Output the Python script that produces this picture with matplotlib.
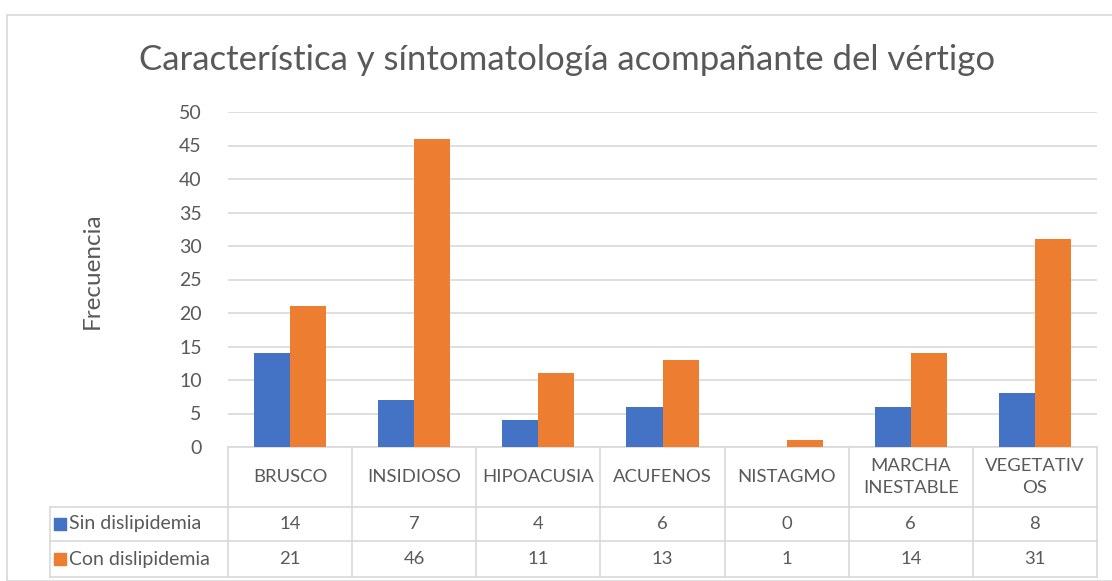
import matplotlib
matplotlib.use('Agg')
import matplotlib.pyplot as plt
import numpy as np

categorias = ['BRUSCO', 'INSIDIOSO', 'HIPOACUSIA', 'ACUFENOS', 'NISTAGMO',
              'MARCHA\nINESTABLE', 'VEGETATIV\nOS']
sin_dis = [14, 7, 4, 6, 0, 6, 8]
con_dis = [21, 46, 11, 13, 1, 14, 31]
series = ['Sin dislipidemia', 'Con dislipidemia']
colores = ['#4472C4', '#ED7D31']

plt.rcParams['font.family'] = ['Lato', 'DejaVu Sans']
gris = '#595959'
linea = '#d9d9d9'

W, H = 1112, 581
fig = plt.figure(figsize=(W/100, H/100), dpi=100)

# borde del grafico
fig.add_artist(plt.Rectangle((7/W, 0), 1.2, 1 - 15/H, transform=fig.transFigure,
                             fill=False, edgecolor=linea, lw=1.2))

left, right, top, bottom = 228, 1097, 112, 447
ax = fig.add_axes([left/W, 1 - bottom/H, (right-left)/W, (bottom-top)/H])

x = np.arange(len(categorias))
w = 0.29
ax.bar(x - w/2, sin_dis, w, color=colores[0], zorder=3)
ax.bar(x + w/2, con_dis, w, color=colores[1], zorder=3)

ax.set_xlim(-0.5, len(categorias) - 0.5)
ax.set_ylim(0, 50)
ax.set_yticks(range(0, 51, 5))
ax.yaxis.grid(True, color=linea, lw=1.2, zorder=0)
ax.tick_params(axis='y', length=0, pad=19, labelsize=14, labelcolor=gris)
ax.set_xticks([])
for s in ['top', 'right', 'left']:
    ax.spines[s].set_visible(False)
ax.spines['bottom'].set_color(linea)
ax.spines['bottom'].set_linewidth(1.2)

fig.text(92/W, 1 - 271/H, 'Frecuencia', rotation=90, ha='center', va='center',
         fontsize=17.5, color=gris)
fig.text(567/W, 1 - 60/H, 'Característica y síntomatología acompañante del vértigo',
         ha='center', va='center', fontsize=25, color=gris)

# tabla de datos
ph = bottom - top
def ay(py):
    return (bottom - py) / ph
y_h, y_r1, y_r2 = ay(507), ay(541), ay(577)
lab_left = (50 - left) / (right - left) * 7 - 0.5

tr = ax.get_xaxis_transform()
for xv in np.arange(-0.5, len(categorias), 1.0):
    ax.plot([xv, xv], [0, y_r2], transform=tr, clip_on=False, color=linea, lw=1.2)
ax.plot([lab_left, lab_left], [y_h, y_r2], transform=tr, clip_on=False, color=linea, lw=1.2)
for yv in [y_h, y_r1, y_r2]:
    ax.plot([lab_left, len(categorias) - 0.5], [yv, yv], transform=tr,
            clip_on=False, color=linea, lw=1.2)

fs = 13.3
for i, c in enumerate(categorias):
    ax.text(i, y_h / 2, c, transform=tr, ha='center', va='center',
            fontsize=fs, color=gris, linespacing=1.4)
for r, (vals, yy0, yy1) in enumerate([(sin_dis, y_h, y_r1), (con_dis, y_r1, y_r2)]):
    ym = (yy0 + yy1) / 2
    for i, v in enumerate(vals):
        ax.text(i, ym, str(v), transform=tr, ha='center', va='center',
                fontsize=fs, color=gris)
    ax.text(lab_left + 0.15, ym, series[r], transform=tr, ha='left', va='center',
            fontsize=fs + 0.7, color=gris)
    ax.scatter([lab_left + 0.08], [ym], marker='s', s=75, color=colores[r],
               transform=tr, clip_on=False)

fig.savefig('out.png', dpi=100)
